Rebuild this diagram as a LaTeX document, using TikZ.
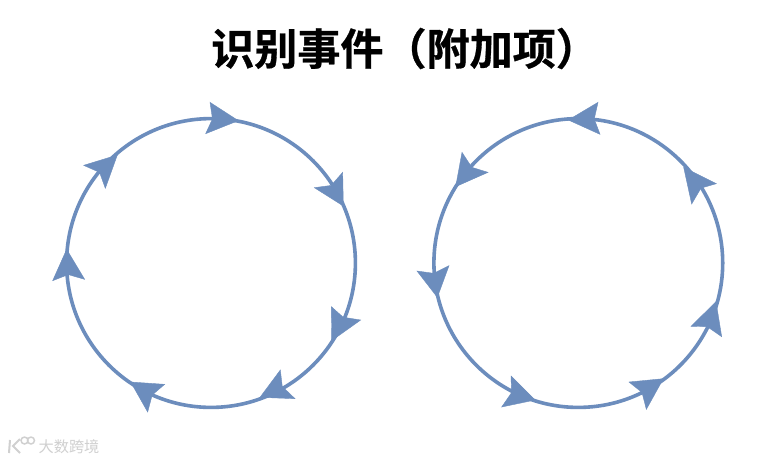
\documentclass[tikz,border=0pt]{standalone}
\usepackage{fontspec}
\newfontfamily\cjk{Noto Sans CJK SC}
\newfontfamily\cjkbold[FakeBold=0.7]{Noto Sans CJK SC Bold}
\definecolor{ringblue}{HTML}{6C8DBD}
\definecolor{markgrey}{HTML}{D0D0D0}
\tikzset{
  ring/.style={draw=ringblue,line width=2.7pt},
  tiphead/.style={fill=ringblue,draw=ringblue,line width=0.3pt,line join=miter},
  headline/.style={inner sep=0pt,font=\cjkbold\fontsize{32.3pt}{36pt}\selectfont,text=black},
  marktext/.style={inner sep=0pt,font=\cjk\fontsize{11.4pt}{13pt}\selectfont,text=markgrey},
  markline/.style={draw=markgrey,line width=1.5pt}
}
\newcommand{\headat}[8]{%
  \pgfmathsetmacro{\nx}{#5+0.35*((#3+#7)/2-#5)}%
  \pgfmathsetmacro{\ny}{#6+0.35*((#4+#8)/2-#6)}%
  \path[tiphead] (#1,#2) -- (#3,#4) -- (\nx,\ny) -- (#7,#8) -- cycle;}
\begin{document}
\begin{tikzpicture}[x=0.75pt,y=-0.75pt]
\useasboundingbox[fill=white] (0,0) rectangle (762,461);
\node[headline] (title) at (405,48.5) {识别事件（附加项）};
\draw[ring] (211,263) circle [radius=108.3pt];
\draw[ring] (578.3,263) circle [radius=108.3pt];
% arrowheads, in the coordinates of the 3x crops
\begin{scope}[xshift=30pt,yshift=-67.5pt,x=0.25pt,y=-0.25pt]
\foreach \ax/\ay/\bx/\by/\cx/\cy/\dx/\dy in {
595/92/510/37/525/88/497/131,
910/348/908/247/878/295/823/293,
875/752/874/650/905/688/962/690,
660/922/721/840/718/893/765/926,
272/876/374/883/330/910/323/966,
232/195/131/226/187/240/196/295,
80/478/38/572/84/545/134/568}
  {\headat{\ax}{\ay}{\bx}{\by}{\cx}{\cy}{\dx}{\dy}}
\end{scope}
\begin{scope}[xshift=307.5pt,yshift=-67.5pt,x=0.25pt,y=-0.25pt]
\foreach \ax/\ay/\bx/\by/\cx/\cy/\dx/\dy in {
475/90/564/37/545/88/570/133,
137/290/156/187/180/240/234/247,
82/622/21/543/72/558/117/527,
375/930/303/858/313/910/275/951,
760/866/657/876/703/902/709/958,
918/635/843/709/893/702/935/740,
821/232/845/342/868/285/919/281}
  {\headat{\ax}{\ay}{\bx}{\by}{\cx}{\cy}{\dx}{\dy}}
\end{scope}
% watermark
\draw[markline] (10,440) -- (9,453) (20,439) -- (13,446) -- (20,453);
\draw[markline,line width=1.1pt] (24.5,440.5) circle [radius=2.6pt] (31,440.5) circle [radius=2.6pt];
\node[marktext] (mark) at (69,447) {大数跨境};
\end{tikzpicture}
\end{document}
